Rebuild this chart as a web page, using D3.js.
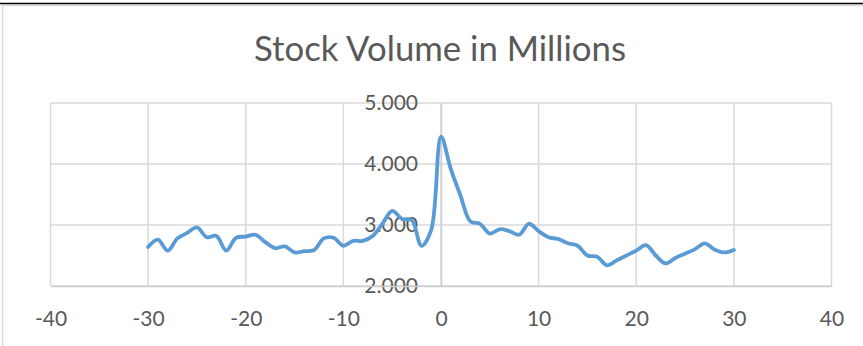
<!DOCTYPE html>
<html>
<head>
<meta charset="utf-8">
<script src="https://cdn.jsdelivr.net/npm/d3@7/dist/d3.min.js"></script>
<style>
  html, body { margin: 0; padding: 0; background: #ffffff; }
  svg { display: block; }
  text { font-family: Lato, "Open Sans", "Liberation Sans", sans-serif; fill: #595959; }
</style>
</head>
<body>
<svg id="chart" width="863" height="346"></svg>
<script>
// Trading days relative to the event (day 0)
const days = d3.range(-30, 31);

// Daily stock volume, millions of shares
const volume = [
  2.64, 2.76, 2.58, 2.78, 2.87, 2.96, 2.80, 2.82, 2.58, 2.79,
  2.81, 2.84, 2.72, 2.62, 2.65, 2.55, 2.57, 2.59, 2.78, 2.79,
  2.66, 2.74, 2.74, 2.82, 3.02, 3.23, 3.10, 3.08, 2.66, 2.92,
  4.45, 3.92, 3.48, 3.06, 3.02, 2.86, 2.93, 2.90, 2.84, 3.02,
  2.90, 2.80, 2.77, 2.70, 2.66, 2.50, 2.48, 2.34, 2.42, 2.50,
  2.58, 2.67, 2.50, 2.37, 2.46, 2.53, 2.60, 2.70, 2.60, 2.55,
  2.59
];

const xTicks = [-40, -30, -20, -10, 0, 10, 20, 30, 40];
const yTicks = [2, 3, 4, 5];
const titleText = "Stock Volume in Millions";

const svg = d3.select("#chart");
const W = 863, H = 346;

// outer frame
svg.append("rect")
  .attr("x", 2.5).attr("y", 5.5)
  .attr("width", 870).attr("height", 360)
  .attr("fill", "none").attr("stroke", "#d9d9d9").attr("stroke-width", 1.5);
svg.append("line")
  .attr("x1", 0).attr("x2", W).attr("y1", 3.5).attr("y2", 3.5)
  .attr("stroke", "#000").attr("stroke-width", 1.3);

const x = d3.scaleLinear().domain([-40, 40]).range([50.5, 831.5]);
const y = d3.scaleLinear().domain([2, 5]).range([286, 103]);

// gridlines
const grid = svg.append("g");
grid.selectAll("line.v").data(xTicks).join("line")
  .attr("x1", d => x(d)).attr("x2", d => x(d))
  .attr("y1", y(5)).attr("y2", y(2))
  .attr("stroke", "#d9d9d9").attr("stroke-width", 1.5);
grid.selectAll("line.h").data(yTicks).join("line")
  .attr("x1", x(-40)).attr("x2", x(40))
  .attr("y1", d => y(d)).attr("y2", d => y(d))
  .attr("stroke", "#d9d9d9").attr("stroke-width", 1.5);

// y axis crossing at x = 0
const yAxis = d3.axisLeft(y).tickValues(yTicks)
  .tickFormat(d3.format(".3f")).tickSize(0).tickPadding(23);
const gy = svg.append("g").attr("transform", `translate(${x(0)},0)`).call(yAxis);
gy.select(".domain").attr("stroke", "#cfcfcf").attr("stroke-width", 1.5);
gy.selectAll("text").style("font-size", "21px").attr("fill", "#595959");

// x axis along the bottom, plain hyphen for negatives
const xAxis = d3.axisBottom(x).tickValues(xTicks)
  .tickFormat(d => String(d)).tickSize(0).tickPadding(25);
const gx = svg.append("g").attr("transform", `translate(0,${y(2)})`).call(xAxis);
gx.select(".domain").attr("stroke", "#cfcfcf").attr("stroke-width", 1.5);
gx.selectAll("text").style("font-size", "21px").attr("fill", "#595959");

// smoothed series line
const line = d3.line()
  .x((d, i) => x(days[i]))
  .y(d => y(d))
  .curve(d3.curveCatmullRom.alpha(0.5));
svg.append("path")
  .datum(volume)
  .attr("d", line)
  .attr("fill", "none")
  .attr("stroke", "#5b9bd5")
  .attr("stroke-width", 3.8)
  .attr("stroke-linejoin", "round")
  .attr("stroke-linecap", "round");

// title, sized to span the header width
const title = svg.append("text")
  .attr("x", 440).attr("y", 61)
  .attr("text-anchor", "middle")
  .style("font-size", "32px")
  .text(titleText);
const len = title.node().getComputedTextLength();
title.style("font-size", (32 * 372 / len).toFixed(2) + "px");
</script>
</body>
</html>
